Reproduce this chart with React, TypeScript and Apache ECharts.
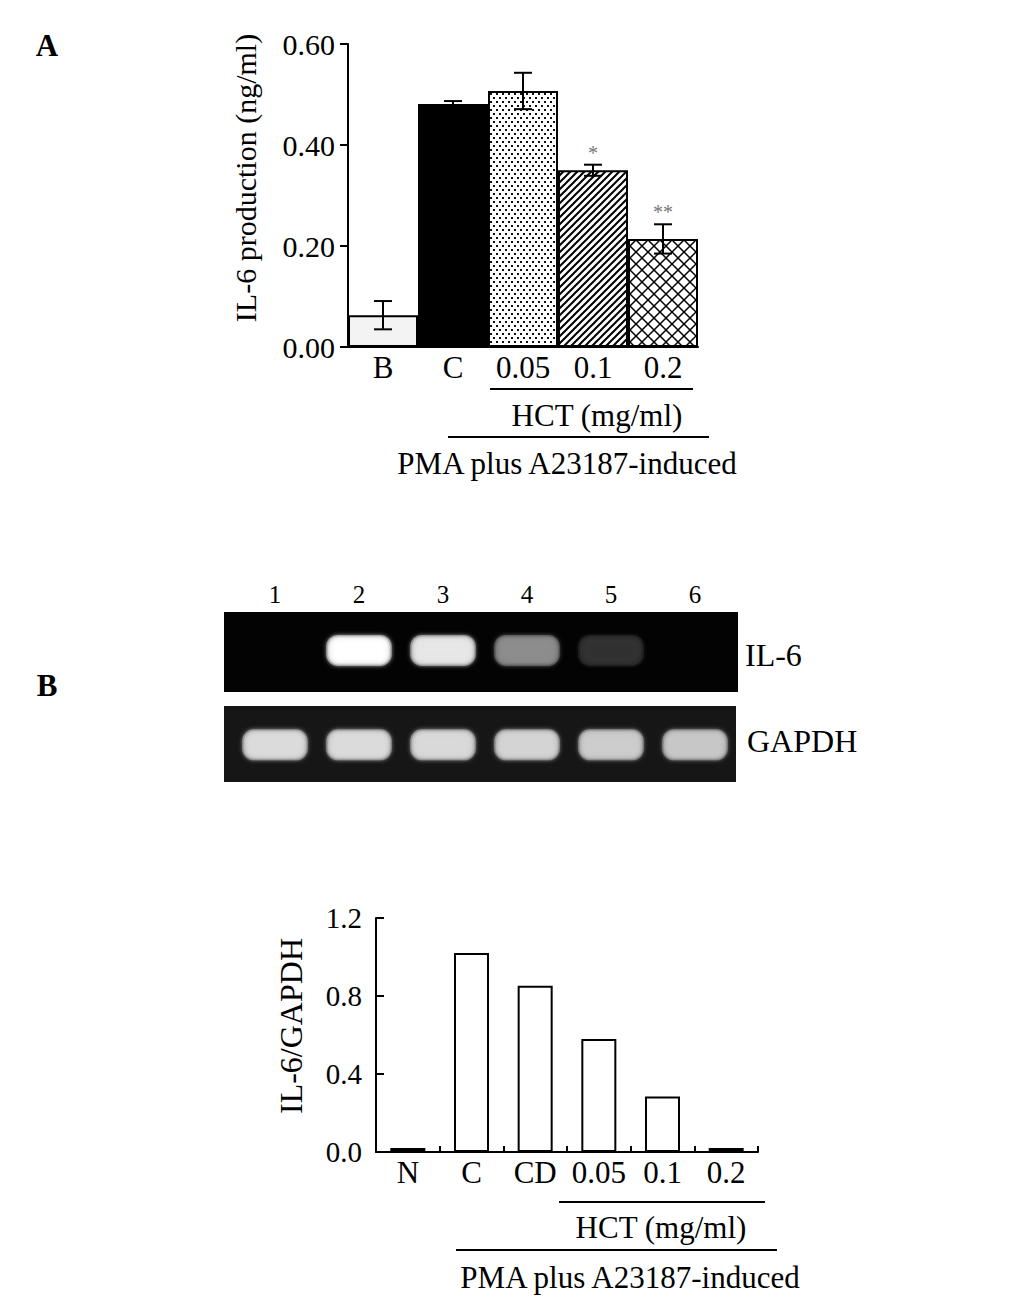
import React, { useEffect, useRef } from 'react';
import * as echarts from 'echarts';

// ---------- Panel A: IL-6 production (ELISA) ----------
const elisaCategories = ['B', 'C', '0.05', '0.1', '0.2'];
const elisaValues = [0.063, 0.481, 0.507, 0.35, 0.214];
const elisaErrors = [0.028, 0.006, 0.036, 0.011, 0.029];
const elisaSignificance = ['', '', '', '*', '**'];
const elisaPatterns = ['light', 'solid', 'dots', 'diag', 'cross'];

// ---------- Panel B: gel lanes (relative band intensities) ----------
const laneNumbers = [1, 2, 3, 4, 5, 6];
const il6Band = [0, 1.0, 0.9, 0.55, 0.2, 0];
const gapdhBand = [0.86, 0.86, 0.85, 0.83, 0.8, 0.78];

// ---------- Panel B: IL-6/GAPDH densitometry ----------
const ratioCategories = ['N', 'C', 'CD', '0.05', '0.1', '0.2'];
const ratioValues = [0.02, 1.02, 0.853, 0.58, 0.284, 0.02];

const FONT = '"Liberation Serif", "Times New Roman", "DejaVu Serif", serif';

function makePattern(kind: string): any {
  const c = document.createElement('canvas');
  const ctx = c.getContext('2d')!;
  let w = 6, h = 6;
  if (kind === 'dots') {
    w = 6; h = 8;
    c.width = w; c.height = h;
    ctx.fillStyle = '#fff'; ctx.fillRect(0, 0, w, h);
    ctx.fillStyle = '#111';
    ctx.fillRect(1, 1, 2, 2);
    ctx.fillRect(4, 5, 2, 2);
  } else if (kind === 'diag') {
    w = 7; h = 7;
    c.width = w; c.height = h;
    ctx.fillStyle = '#fff'; ctx.fillRect(0, 0, w, h);
    ctx.strokeStyle = '#000'; ctx.lineWidth = 2;
    ctx.beginPath();
    ctx.moveTo(-1, h + 1); ctx.lineTo(w + 1, -1);
    ctx.moveTo(-2, 2); ctx.lineTo(2, -2);
    ctx.moveTo(w - 2, h + 2); ctx.lineTo(w + 2, h - 2);
    ctx.stroke();
  } else if (kind === 'cross') {
    w = 12; h = 12;
    c.width = w; c.height = h;
    ctx.fillStyle = '#fff'; ctx.fillRect(0, 0, w, h);
    ctx.strokeStyle = '#000'; ctx.lineWidth = 1.5;
    ctx.beginPath();
    ctx.moveTo(-1, h + 1); ctx.lineTo(w + 1, -1);
    ctx.moveTo(-1, -1); ctx.lineTo(w + 1, h + 1);
    ctx.stroke();
  }
  return { image: c.toDataURL(), repeat: 'repeat', imageWidth: w, imageHeight: h };
}

function fillFor(kind: string): any {
  if (kind === 'light') return '#f3f3f3';
  if (kind === 'solid') return '#000';
  return makePattern(kind);
}

function textEl(text: string, x: number, y: number, opts: any = {}) {
  return {
    type: 'text',
    x, y,
    rotation: opts.rotation || 0,
    style: {
      text,
      fontSize: opts.fontSize || 31,
      fontFamily: FONT,
      fontWeight: opts.fontWeight || 'normal',
      fill: opts.fill || '#000',
      align: opts.align || 'center',
      textAlign: opts.align || 'center',
      verticalAlign: 'middle',
      textVerticalAlign: 'middle',
    },
  };
}

function lineEl(x1: number, y1: number, x2: number, y2: number) {
  return { type: 'line', shape: { x1, y1, x2, y2 }, style: { stroke: '#000', lineWidth: 2 } };
}

export default function App() {
  const ref = useRef<HTMLDivElement>(null);

  useEffect(() => {
    if (!ref.current) return;
    const chart = echarts.init(ref.current, undefined, { renderer: 'svg' });

    const laneMin = 0.393;
    const topGelMax = 6.512;
    const botGelMax = 6.488;

    // fuzzy gel band: stacked rounded rectangles, brightest in the core
    const bandRender = (bandW: number, bandH: number, yPos: number) => (params: any, api: any) => {
      const v = api.value(1);
      if (!v || v <= 0) return null;
      const p = api.coord([api.value(0), yPos]);
      const g = Math.round(255 * v);
      const col = `rgb(${g},${g},${g})`;
      const layers = 6;
      const children: any[] = [];
      for (let k = layers - 1; k >= 0; k--) {
        const w = bandW - 12 + k * 3.5;
        const h = bandH - 12 + k * 3;
        children.push({
          type: 'rect',
          shape: { x: p[0] - w / 2, y: p[1] - h / 2, width: w, height: h, r: Math.min(h / 2, 4 + k * 1.5) },
          style: { fill: col, opacity: 0.42, shadowBlur: 4, shadowColor: col },
        });
      }
      return { type: 'group', children };
    };

    const option: any = {
      animation: false,
      backgroundColor: '#fff',
      textStyle: { fontFamily: FONT },
      grid: [
        { left: 348, top: 44, width: 350, height: 303 },
        { left: 224, top: 612, width: 514, height: 80, show: true, backgroundColor: '#030303', borderWidth: 0 },
        { left: 224, top: 706, width: 512, height: 76, show: true, backgroundColor: '#161616', borderWidth: 0 },
        { left: 376, top: 918, width: 382, height: 234 },
      ],
      xAxis: [
        {
          gridIndex: 0, type: 'category', data: elisaCategories,
          axisLine: { show: true, lineStyle: { color: '#000', width: 2 } },
          axisTick: { show: false },
          axisLabel: { interval: 0, color: '#000', fontSize: 31, fontFamily: FONT, margin: 5 },
        },
        {
          gridIndex: 1, type: 'value', min: laneMin, max: topGelMax, position: 'top',
          splitLine: { show: false }, axisLine: { show: false }, axisTick: { show: false },
          axisLabel: { customValues: laneNumbers, color: '#000', fontSize: 25, fontFamily: FONT, margin: 5 },
        },
        {
          gridIndex: 2, type: 'value', min: laneMin, max: botGelMax, show: false,
          splitLine: { show: false },
        },
        {
          gridIndex: 3, type: 'category', data: ratioCategories,
          axisLine: { show: true, lineStyle: { color: '#000', width: 2 } },
          axisTick: { show: true, inside: true, length: 6, lineStyle: { color: '#000', width: 2 } },
          axisLabel: { interval: 0, color: '#000', fontSize: 31, fontFamily: FONT, margin: 5 },
        },
      ],
      yAxis: [
        {
          gridIndex: 0, type: 'value', min: 0, max: 0.6, interval: 0.2,
          axisLine: { show: true, lineStyle: { color: '#000', width: 2 } },
          axisTick: { show: true, length: 8, lineStyle: { color: '#000', width: 2 } },
          splitLine: { show: false },
          axisLabel: { color: '#000', fontSize: 30, fontFamily: FONT, margin: 13, formatter: (v: number) => v.toFixed(2) },
        },
        { gridIndex: 1, type: 'value', min: 0, max: 1, show: false, splitLine: { show: false } },
        { gridIndex: 2, type: 'value', min: 0, max: 1, show: false, splitLine: { show: false } },
        {
          gridIndex: 3, type: 'value', min: 0, max: 1.2, interval: 0.4,
          axisLine: { show: true, lineStyle: { color: '#000', width: 2 } },
          axisTick: { show: true, inside: true, length: 8, lineStyle: { color: '#000', width: 2 } },
          splitLine: { show: false },
          axisLabel: { color: '#000', fontSize: 29, fontFamily: FONT, margin: 14, formatter: (v: number) => v.toFixed(1) },
        },
      ],
      series: [
        {
          type: 'bar', xAxisIndex: 0, yAxisIndex: 0, barCategoryGap: 0, barWidth: '100%',
          data: elisaValues.map((v, i) => ({ value: v, itemStyle: { color: fillFor(elisaPatterns[i]) } })),
          itemStyle: { borderColor: '#000', borderWidth: 2 },
          z: 2,
        },
        {
          type: 'custom', xAxisIndex: 0, yAxisIndex: 0, z: 5,
          data: elisaValues.map((v, i) => [i, v, elisaErrors[i]]),
          renderItem: (params: any, api: any) => {
            const i = api.value(0), v = api.value(1), e = api.value(2);
            const top = api.coord([i, v + e]);
            const bot = api.coord([i, v - e]);
            const cap = 9;
            const children: any[] = [
              { type: 'line', shape: { x1: top[0], y1: top[1], x2: bot[0], y2: bot[1] }, style: { stroke: '#000', lineWidth: 2 } },
              { type: 'line', shape: { x1: top[0] - cap, y1: top[1], x2: top[0] + cap, y2: top[1] }, style: { stroke: '#000', lineWidth: 2 } },
              { type: 'line', shape: { x1: bot[0] - cap, y1: bot[1], x2: bot[0] + cap, y2: bot[1] }, style: { stroke: '#000', lineWidth: 2 } },
            ];
            const sig = elisaSignificance[params.dataIndex];
            if (sig) {
              children.push({
                type: 'text',
                x: top[0], y: top[1] - 12,
                style: { text: sig, fontSize: 20, fontFamily: FONT, fill: '#777', align: 'center', verticalAlign: 'middle' },
              });
            }
            return { type: 'group', children };
          },
        },
        {
          type: 'custom', xAxisIndex: 1, yAxisIndex: 1, z: 3,
          data: il6Band.map((v, i) => [laneNumbers[i], v]),
          renderItem: bandRender(60, 28, 0.52),
        },
        {
          type: 'custom', xAxisIndex: 2, yAxisIndex: 2, z: 3,
          data: gapdhBand.map((v, i) => [laneNumbers[i], v]),
          renderItem: bandRender(60, 28, 0.49),
        },
        {
          type: 'bar', xAxisIndex: 3, yAxisIndex: 3, barWidth: 35,
          data: ratioValues,
          itemStyle: { color: '#fff', borderColor: '#000', borderWidth: 2 },
        },
      ],
      graphic: [
        textEl('A', 47, 45, { fontSize: 31, fontWeight: 'bold' }),
        textEl('B', 47, 685, { fontSize: 31, fontWeight: 'bold' }),
        textEl('IL-6 production (ng/ml)', 245, 178, { rotation: Math.PI / 2, fontSize: 30 }),
        lineEl(490, 389, 693, 389),
        textEl('HCT (mg/ml)', 597, 415),
        lineEl(448, 437, 709, 437),
        textEl('PMA plus A23187-induced', 567, 463),
        textEl('IL-6', 745, 655, { align: 'left', fontSize: 32 }),
        textEl('GAPDH', 747, 741, { align: 'left', fontSize: 32 }),
        textEl('IL-6/GAPDH', 291, 1026, { rotation: Math.PI / 2, fontSize: 32 }),
        lineEl(559, 1202, 765, 1202),
        textEl('HCT (mg/ml)', 661, 1227),
        lineEl(456, 1250, 777, 1250),
        textEl('PMA plus A23187-induced', 630, 1277),
      ],
    };

    chart.setOption(option);
    return () => chart.dispose();
  }, []);

  return (
    <div
      ref={ref}
      style={{ position: 'absolute', left: 0, top: 0, width: 1033, height: 1299, background: '#fff' }}
    />
  );
}
